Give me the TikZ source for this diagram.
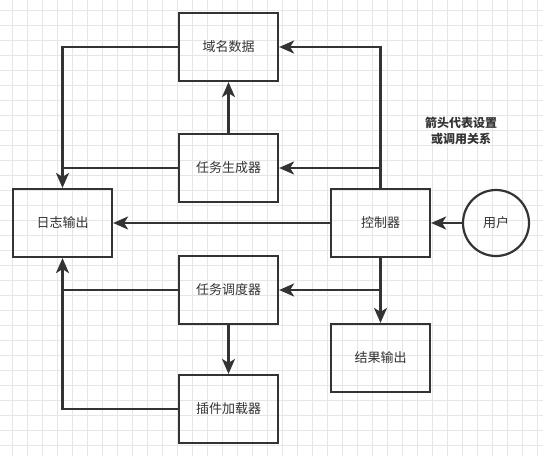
\documentclass[tikz,border=0pt]{standalone}
\usepackage{fontspec}
\newfontfamily\cjk{Noto Sans CJK SC}
\usetikzlibrary{arrows.meta}
\definecolor{lnc}{HTML}{333333}
\definecolor{gridc}{HTML}{E6E6E6}
\begin{document}
\begin{tikzpicture}[x=1pt,y=-1pt,
  box/.style={draw=lnc, line width=2.2pt, minimum width=99pt, minimum height=68pt, inner sep=0pt,
    font=\cjk\fontsize{13}{15}\selectfont, text=lnc},
  usr/.style={circle, draw=lnc, line width=2.2pt, minimum size=66pt, inner sep=0pt,
    font=\cjk\fontsize{13}{15}\selectfont, text=lnc},
  arr/.style={draw=lnc, line width=2.2pt, -{Stealth[length=15pt,width=13pt,inset=4pt]}},
  plain/.style={draw=lnc, line width=2.2pt}]
\fill[white] (0,0) rectangle (543,456);
\useasboundingbox (0,0) rectangle (543,456);
\foreach \gx in {12,27,...,542} \draw[gridc, line width=0.7pt] (\gx,0) -- (\gx,456);
\foreach \gy in {10,25,...,455} \draw[gridc, line width=0.7pt] (0,\gy) -- (543,\gy);

\node[box] (d) at (228.5,47) {域名数据};
\node[box] (g) at (228.5,168) {任务生成器};
\node[box] (log) at (62.5,223) {日志输出};
\node[box] (ctrl) at (380.5,223) {控制器};
\node[usr] (user) at (496,223) {用户};
\node[box] (s) at (228.5,290) {任务调度器};
\node[box] (res) at (380.5,358) {结果输出};
\node[box] (p) at (228.5,409) {插件加载器};
\node[font=\cjk\bfseries\fontsize{12}{16}\selectfont, text=lnc, align=center] (note) at (461,131) {箭头代表设置\\或调用关系};

\draw[arr] (d.west) -| (log.north);
\draw[plain] (g.west) -- (g.west -| log.north);
\draw[arr] (ctrl.west) -- (log.east);
\draw[arr] (user.west) -- (ctrl.east);
\draw[arr] (ctrl.north) |- (d.east);
\draw[arr] (ctrl.north |- g.east) -- (g.east);
\draw[arr] (g.north) -- (d.south);
\draw[arr] (ctrl.south) -- (res.north);
\draw[arr] (ctrl.south |- s.east) -- (s.east);
\draw[arr] (s.south) -- (p.north);
\draw[arr] (p.west) -| (log.south);
\draw[plain] (s.west) -- (s.west -| log.south);
\end{tikzpicture}
\end{document}
